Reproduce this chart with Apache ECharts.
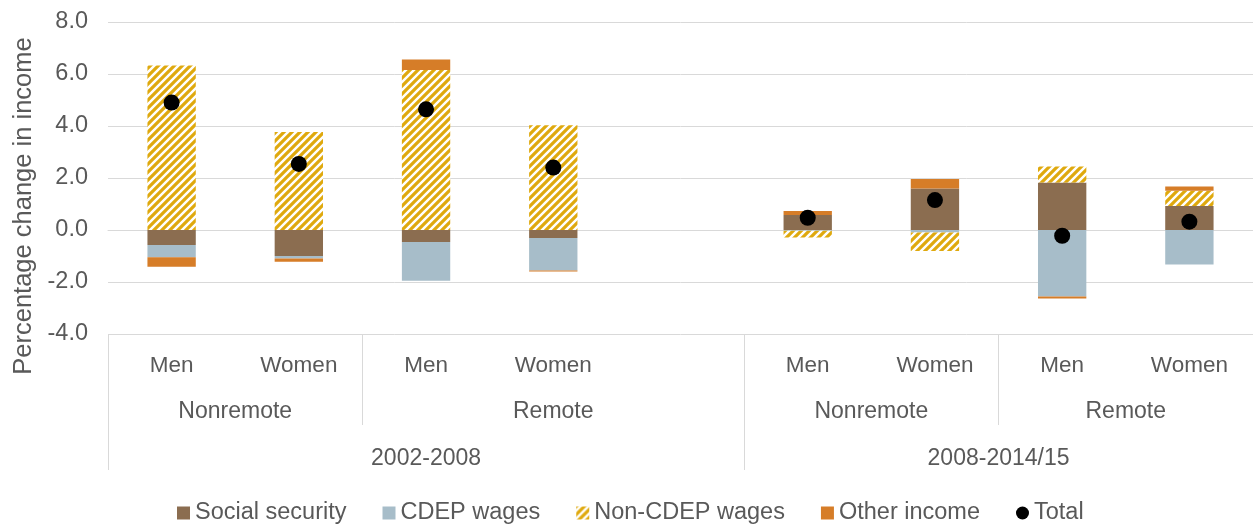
<!DOCTYPE html>
<html>
<head>
<meta charset="utf-8">
<script src="https://cdn.jsdelivr.net/npm/echarts@6/dist/echarts.min.js"></script>
<style>
  html, body { margin: 0; padding: 0; background: #fff; }
  #chart { width: 1253px; height: 524px; }
</style>
</head>
<body>
<div id="chart"></div>
<script>
// categories (one empty slot between the two periods)
var sexLabels = ['Men', 'Women', 'Men', 'Women', '', 'Men', 'Women', 'Men', 'Women'];
var regionLabels = ['Nonremote', 'Remote', 'Nonremote', 'Remote'];
var regionSpans = [2, 3, 2, 2];
var periodLabels = ['2002-2008', '2008-2014/15'];
var periodSpans = [5, 4];

// series values (percentage change in income)
var socialSecurity = [-0.58, -1.00, -0.46, -0.31, null, 0.58, 1.60, 1.83, 0.92];
var cdepWages      = [-0.47, -0.10, -1.49, -1.25, null, -0.03, -0.10, -2.56, -1.33];
var nonCdepWages   = [6.33, 3.77, 6.15, 4.03, null, -0.26, -0.71, 0.61, 0.59];
var otherIncome    = [-0.36, -0.12, 0.41, -0.04, null, 0.15, 0.36, -0.07, 0.16];
var total          = [4.90, 2.54, 4.64, 2.40, null, 0.47, 1.15, -0.22, 0.32];

var yTicks = [-4, -2, 0, 2, 4, 6, 8];

var FONT = '"Liberation Sans", Arial, sans-serif';
var TXT = '#595959';
var GRID = '#d9d9d9';

// group centres / boundaries on a 0..9 value scale
function spansToMarks(spans) {
  var centers = [], bounds = [0], acc = 0;
  spans.forEach(function (s) {
    centers.push(acc + s / 2);
    acc += s;
    bounds.push(acc);
  });
  return { centers: centers, bounds: bounds };
}
var regionMarks = spansToMarks(regionSpans);
var periodMarks = spansToMarks(periodSpans);

// hatch pattern for Non-CDEP wages
function makeHatch() {
  var c = document.createElement('canvas');
  c.width = 8; c.height = 8;
  var ctx = c.getContext('2d');
  ctx.fillStyle = '#ffffff';
  ctx.fillRect(0, 0, 8, 8);
  ctx.strokeStyle = '#DFA90E';
  ctx.lineWidth = 3.2;
  ctx.beginPath();
  ctx.moveTo(-1, 9); ctx.lineTo(9, -1);
  ctx.moveTo(-2, 2); ctx.lineTo(2, -2);
  ctx.moveTo(6, 10); ctx.lineTo(10, 6);
  ctx.stroke();
  return c;
}
var hatch = { image: makeHatch(), repeat: 'repeat' };

function groupAxis(marks, labels, tickLen, labelMargin) {
  return {
    type: 'value',
    min: 0,
    max: 9,
    position: 'bottom',
    axisLine: { show: false },
    splitLine: { show: false },
    axisTick: {
      show: true,
      customValues: marks.bounds.slice(0, -1),
      length: tickLen,
      lineStyle: { color: GRID, width: 1 }
    },
    axisLabel: {
      customValues: marks.centers,
      margin: labelMargin,
      color: TXT,
      fontSize: 23,
      fontFamily: FONT,
      formatter: function (v) {
        var i = marks.centers.indexOf(v);
        return i >= 0 ? labels[i] : '';
      }
    }
  };
}

var chart = echarts.init(document.getElementById('chart'));
chart.setOption({
  animation: false,
  textStyle: { fontFamily: FONT },
  grid: { left: 108, right: 0, top: 22, bottom: 190, containLabel: false },
  legend: {
    top: 496,
    left: 172,
    itemWidth: 13,
    itemHeight: 13,
    itemGap: 36,
    textStyle: { color: TXT, fontSize: 23.5, fontFamily: FONT },
    data: [
      { name: 'Social security', icon: 'rect' },
      { name: 'CDEP wages', icon: 'rect' },
      { name: 'Non-CDEP wages', icon: 'rect' },
      { name: 'Other income', icon: 'rect' },
      { name: 'Total', icon: 'circle' }
    ]
  },
  xAxis: [
    {
      type: 'category',
      data: sexLabels,
      position: 'bottom',
      axisLine: { show: true, lineStyle: { color: GRID, width: 1 } },
      axisTick: { show: false },
      axisLabel: { margin: 20, color: TXT, fontSize: 22.5, fontFamily: FONT, interval: 0 }
    },
    groupAxis(regionMarks, regionLabels, 91, 66),
    groupAxis(periodMarks, periodLabels, 136, 113)
  ],
  yAxis: {
    type: 'value',
    min: yTicks[0],
    max: yTicks[yTicks.length - 1],
    interval: 2,
    name: 'Percentage change in income',
    nameLocation: 'middle',
    nameGap: 71,
    nameTextStyle: { color: TXT, fontSize: 25.5, fontFamily: FONT, padding: [0, 56, 0, 0] },
    axisLine: { show: false },
    axisTick: { show: false },
    splitLine: { lineStyle: { color: GRID, width: 1 } },
    axisLabel: {
      margin: 20,
      color: TXT,
      fontSize: 23.5,
      fontFamily: FONT,
      formatter: function (v) { return v.toFixed(1); }
    }
  },
  series: [
    { name: 'Social security', type: 'bar', stack: 'inc', barWidth: '38%', data: socialSecurity, itemStyle: { color: '#8B6D50' } },
    { name: 'CDEP wages', type: 'bar', stack: 'inc', data: cdepWages, itemStyle: { color: '#A7BDC9' } },
    { name: 'Non-CDEP wages', type: 'bar', stack: 'inc', data: nonCdepWages, itemStyle: { color: hatch } },
    { name: 'Other income', type: 'bar', stack: 'inc', data: otherIncome, itemStyle: { color: '#D67D28' } },
    { name: 'Total', type: 'scatter', data: total, symbol: 'circle', symbolSize: 16, z: 5, itemStyle: { color: '#000000', opacity: 1 } }
  ]
});
</script>
</body>
</html>
